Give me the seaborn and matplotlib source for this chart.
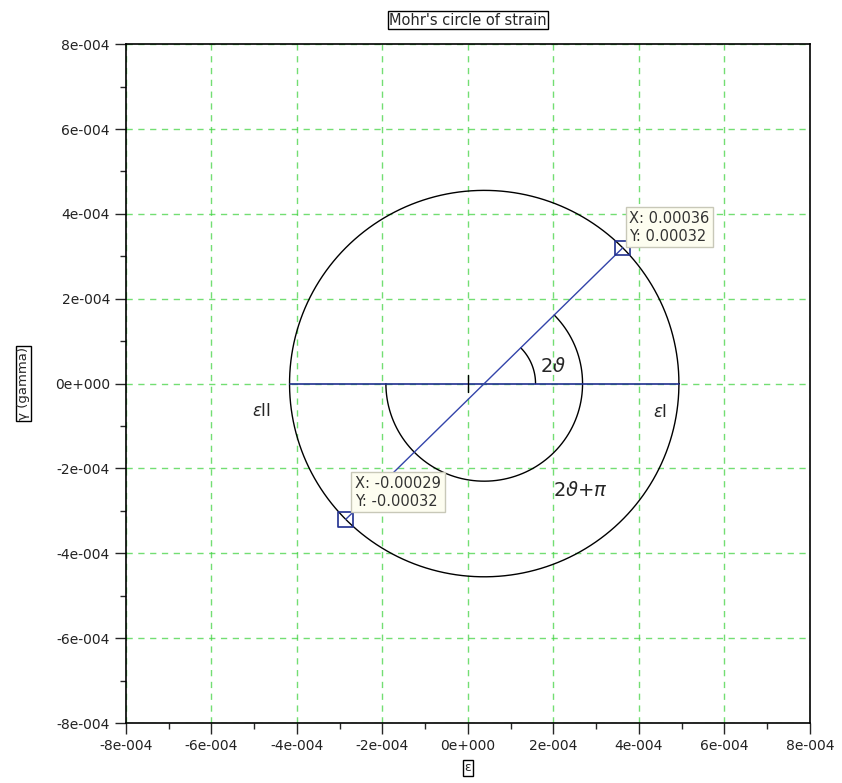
import numpy as np
import pandas as pd
import matplotlib
matplotlib.use('Agg')
import matplotlib.pyplot as plt
import matplotlib.ticker as ticker
import seaborn as sns

# data tip points on the circle (strain, gamma)
point_x = [0.000362, -0.000286]
point_y = [0.00032, -0.00032]
tip_labels = ['X: 0.00036\nY: 0.00032', 'X: -0.00029\nY: -0.00032']

# angle arcs radii
small_arc_r = 0.00012
big_arc_r = 0.00023

sns.set_style('white')
plt.rcParams['font.family'] = ['DejaVu Sans']

cx = (point_x[0] + point_x[1]) / 2
cy = (point_y[0] + point_y[1]) / 2
R = np.hypot(point_x[0] - cx, point_y[0] - cy)
two_theta = np.arctan2(point_y[0] - cy, point_x[0] - cx)

fig = plt.figure(figsize=(8.42, 7.83), dpi=100)
ax = fig.add_axes([0.1496, 0.0766, 0.8124, 0.867])

# green dashed grid
ax.grid(True, which='major', color='#44d444', linestyle=(0, (4.5, 4)), linewidth=1.0, alpha=0.75)

# main circle
t = np.linspace(0, 2 * np.pi, 400)
circle = pd.DataFrame({'x': cx + R * np.cos(t), 'y': cy + R * np.sin(t)})
sns.lineplot(data=circle, x='x', y='y', sort=False, estimator=None, color='black', linewidth=1.0, ax=ax)

# arcs for 2theta and 2theta+pi
t1 = np.linspace(0, two_theta, 60)
sns.lineplot(x=cx + small_arc_r * np.cos(t1), y=cy + small_arc_r * np.sin(t1), sort=False, estimator=None,
             color='black', linewidth=1.0, ax=ax)
t2 = np.linspace(np.pi, 2 * np.pi + two_theta, 200)
sns.lineplot(x=cx + big_arc_r * np.cos(t2), y=cy + big_arc_r * np.sin(t2), sort=False, estimator=None,
             color='black', linewidth=1.0, ax=ax)

# horizontal diameter and rotated diameter
sns.lineplot(x=[cx - R, cx + R], y=[cy, cy], sort=False, estimator=None, color='#1f2f8f', linewidth=1.2, ax=ax)
sns.lineplot(x=point_x, y=point_y, sort=False, estimator=None, color='#3344aa', linewidth=1.0, ax=ax)

# small tick at origin
ax.plot([0, 0], [-0.00002, 0.00002], color='black', linewidth=1.0)

# data tip markers
ax.scatter(point_x, point_y, marker='s', s=110, facecolors='none', edgecolors='#1f2f8f', linewidths=1.2, zorder=5)

tip_props = dict(boxstyle='square,pad=0.25', facecolor='#fdfdf0', edgecolor='#c8c8b8', linewidth=1.0)
ax.text(point_x[0] + 0.000015, point_y[0] + 0.00001, tip_labels[0], fontsize=10.5, ha='left', va='bottom',
        color='#333333', bbox=tip_props, linespacing=1.25, zorder=6)
ax.text(point_x[1] + 0.000022, point_y[1] + 0.000025, tip_labels[1], fontsize=10.5, ha='left', va='bottom',
        color='#333333', bbox=tip_props, linespacing=1.25, zorder=6)

# annotations
ax.text(-0.000482, -0.000064, r'$\varepsilon$II', fontsize=12, ha='center', va='center')
ax.text(0.000449, -0.000068, r'$\varepsilon$I', fontsize=12, ha='center', va='center')
ax.text(0.000199, 0.00004, r'2$\vartheta$', fontsize=14, ha='center', va='center')
ax.text(0.000262, -0.000252, r'2$\vartheta$+$\pi$', fontsize=14, ha='center', va='center')

ax.set_xlim(-0.0008, 0.0008)
ax.set_ylim(-0.0008, 0.0008)

def sci_fmt(v, _):
    if abs(v) < 1e-12:
        return '0e+000'
    exp = int(np.floor(np.log10(abs(v))))
    mant = v / 10 ** exp
    sign = '-' if exp < 0 else '+'
    return f'{mant:.0f}e{sign}{abs(exp):03d}'

ax.xaxis.set_major_locator(ticker.MultipleLocator(0.0002))
ax.yaxis.set_major_locator(ticker.MultipleLocator(0.0002))
ax.xaxis.set_minor_locator(ticker.MultipleLocator(0.0001))
ax.yaxis.set_minor_locator(ticker.MultipleLocator(0.0001))
ax.xaxis.set_major_formatter(ticker.FuncFormatter(sci_fmt))
ax.yaxis.set_major_formatter(ticker.FuncFormatter(sci_fmt))
ax.tick_params(which='major', direction='out', length=8, width=1, labelsize=10, bottom=True, left=True,
               labelcolor='#222222')
ax.tick_params(which='minor', direction='out', length=4, width=1, bottom=True, left=True)

for s in ax.spines.values():
    s.set_color('black')
    s.set_linewidth(1.2)

box = dict(boxstyle='square,pad=0.1', facecolor='white', edgecolor='black', linewidth=1.0)
ax.set_xlabel('ε', fontsize=9, bbox=box, labelpad=6)
ax.set_ylabel('γ (gamma)', fontsize=9.5, bbox=box, labelpad=18)
ax.set_title("Mohr's circle of strain", fontsize=10.5, bbox=box, pad=14)

plt.savefig('out.png', dpi=100)
